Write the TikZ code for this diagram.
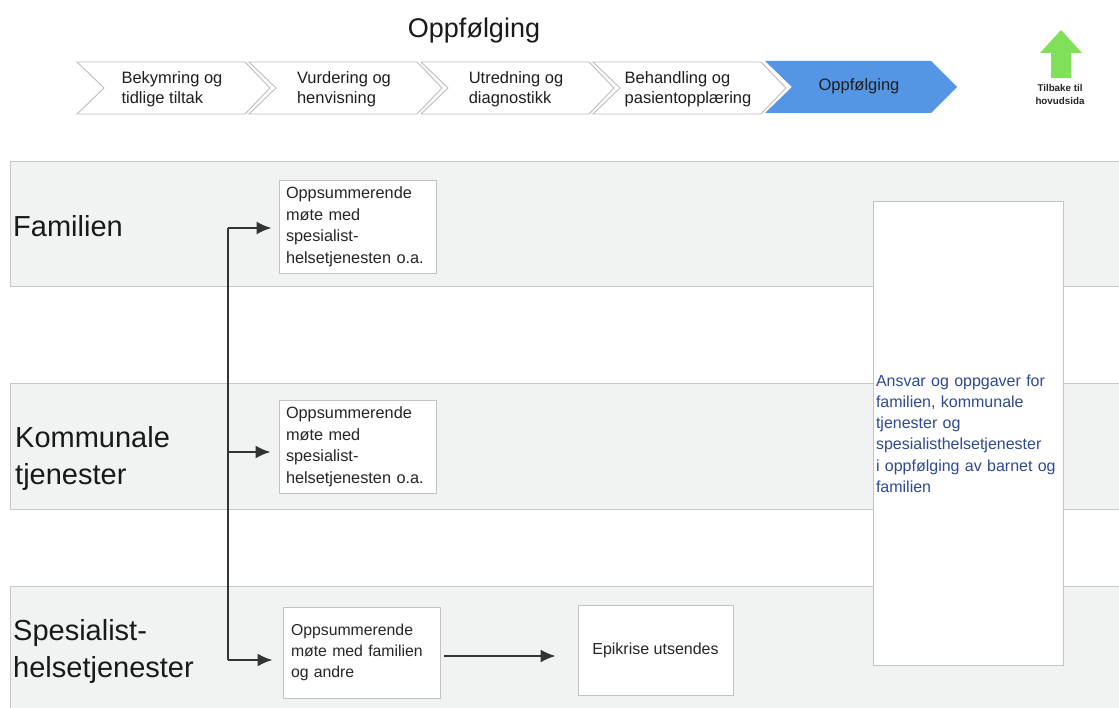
\documentclass[tikz,border=0pt]{standalone}
\usepackage{fontspec}
\setmainfont{Liberation Sans}
\usetikzlibrary{arrows.meta}
\definecolor{lanefill}{HTML}{F1F3F3}
\definecolor{laneline}{HTML}{C6C8C8}
\definecolor{boxline}{HTML}{C2C2C2}
\definecolor{chevline}{HTML}{BDBDBD}
\definecolor{chevblue}{HTML}{5496E4}
\definecolor{txtblue}{HTML}{2E4A94}
\definecolor{arrgreen}{HTML}{7FE05A}
\definecolor{connc}{HTML}{333333}
\begin{document}
\begin{tikzpicture}[x=1pt,y=-1pt,
  lane/.style={fill=lanefill,draw=laneline,line width=1pt},
  chevgray/.style={fill=white,draw=chevline,line width=0.9pt},
  chevtext/.style={align=left,font=\fontsize{16.5}{20}\selectfont,text=black!88,inner sep=0pt},
  lanelabel/.style={align=left,anchor=west,font=\fontsize{29}{37}\selectfont,text=black!90,inner sep=0pt},
  stepbox/.style={draw=boxline,fill=white,line width=1pt,align=left,text=black!85,
     font=\fontsize{16.3}{21.5}\selectfont},
  conn/.style={draw=connc,line width=1.9pt,-{Latex[length=15pt,width=13pt]}},
  spine/.style={draw=connc,line width=1.9pt}]
\useasboundingbox (0,0) rectangle (1119,708);
\fill[white] (0,0) rectangle (1119,708);

% title
\node[font=\fontsize{27}{30}\selectfont,text=black!90] (title) at (474,31) {Oppfølging};

% chevrons
\foreach \L/\txt/\nm in {77/{Bekymring og\\tidlige tiltak}/cA,
                         249/{Vurdering og\\henvisning}/cB,
                         421/{Utredning og\\diagnostikk}/cC,
                         593/{Behandling og\\pasientopplæring}/cD}{
  \draw[chevgray] (\L,62) -- ++(168,0) -- ++(25,26) -- ++(-25,26) -- ++(-168,0) -- ++(27,-26) -- cycle;
  \node[chevtext] (\nm) at (\L+95,89) {\txt};
}
\fill[chevblue] (765,61) -- ++(166,0) -- ++(26,26) -- ++(-26,26) -- ++(-166,0) -- ++(27,-26) -- cycle;
\node[chevtext] (cE) at (859,86) {Oppfølging};

% green back arrow
\fill[arrgreen] (1061,30) -- (1082,53) -- (1071,53) -- (1071,78) -- (1051,78) -- (1051,53) -- (1040,53) -- cycle;
\node[align=center,font=\fontsize{9.8}{13}\bfseries\selectfont,text=black!85,inner sep=0pt] (back) at (1060,95) {Tilbake til\\hovudsida};

% lanes
\draw[lane] (10,162) rectangle (1130,287);
\draw[lane] (10,384) rectangle (1130,509);
\draw[lane] (10,586) rectangle (1130,715);

\node[lanelabel] (lF) at (13,226) {Familien};
\node[lanelabel] (lK) at (15,459) {Kommunale\\tjenester};
\node[lanelabel] (lS) at (13,651) {Spesialist-\\helsetjenester};

% boxes
\node[stepbox,minimum width=157pt,minimum height=90pt,text width=143pt,inner sep=7pt] (mA) at (357.5,227)
  {Oppsummerende\\møte med\\spesialist-\\helsetjenesten o.a.};
\node[stepbox,minimum width=157pt,minimum height=90pt,text width=143pt,inner sep=7pt] (mB) at (357.5,447)
  {Oppsummerende\\møte med\\spesialist-\\helsetjenesten o.a.};
\node[stepbox,minimum width=157pt,minimum height=91pt,text width=141pt,inner sep=8pt,
      font=\fontsize{15.8}{21}\selectfont] (mC) at (361.5,652.5)
  {Oppsummerende\\møte med familien\\og andre};
\node[stepbox,minimum width=155pt,minimum height=90pt,align=center,
      font=\fontsize{16}{21}\selectfont] (mD) at (655.5,650) {Epikrise utsendes};
\node[stepbox,minimum width=190pt,minimum height=463pt,text width=184pt,inner sep=3pt,
      text=txtblue,font=\fontsize{16}{21.2}\selectfont] (mE) at (968,433.5)
  {Ansvar og oppgaver for\\familien, kommunale\\tjenester og\\spesialisthelsetjenester\\i oppfølging av barnet og\\familien};

% connectors
\coordinate (jA) at (228,228);
\coordinate (jB) at (228,452);
\coordinate (jC) at (228,660);
\draw[spine] (jA) -- (jC);
\draw[conn,shorten >=7pt] (jA) -- (jA -| mA.west);
\draw[conn,shorten >=8pt] (jB) -- (jB -| mB.west);
\draw[conn,shorten >=10pt] (jC) -- (jC -| mC.west);
\draw[conn,shorten <=3pt,shorten >=22pt] (mC.east |- 0,656) -- (mD.west |- 0,656);
\end{tikzpicture}
\end{document}
